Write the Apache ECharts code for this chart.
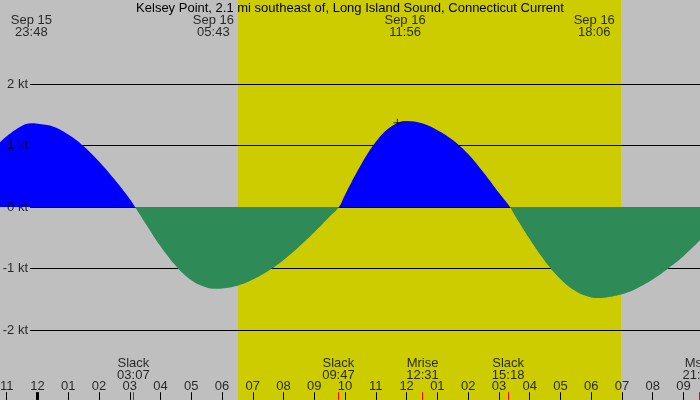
<!DOCTYPE html>
<html lang="en">
<head>
<meta charset="UTF-8">
<title>Kelsey Point Current</title>
<style>
  html, body, #main { width: 100%; height: 100%; margin: 0; padding: 0; }
</style>
<script src="https://cdn.jsdelivr.net/npm/echarts@6/dist/echarts.min.js"></script>
</head>
<body>
<div id="main"></div>
<script>
// time in hours after Sep 16 00:00 (negative = Sep 15), speed in knots
const hours = [-1.22, -1.0, -0.5, -0.2, 0, 0.5, 1.0, 1.5, 2.0, 2.5,
  3.0, 3.17, 3.5, 4.0, 4.5, 5.0, 5.5, 5.77, 6.0, 6.5,
  7.0, 7.5, 8.0, 8.5, 9.0, 9.5, 9.8, 10.0, 10.5, 11.0,
  11.5, 12.0, 12.5, 13.0, 13.5, 14.0, 14.5, 15.0, 15.36, 15.5,
  16.0, 16.5, 17.0, 17.5, 18.0, 18.19, 18.5, 19.0, 19.5, 20.0,
  20.5, 21.0, 21.54];
const speed = [1.05, 1.15, 1.32, 1.36, 1.355, 1.31, 1.18, 0.99, 0.74, 0.45,
  0.13, 0, -0.26, -0.64, -0.96, -1.19, -1.31, -1.33, -1.325, -1.28,
  -1.18, -1.04, -0.86, -0.645, -0.41, -0.155, 0, 0.20, 0.67, 1.06,
  1.31, 1.40, 1.36, 1.25, 1.09, 0.86, 0.56, 0.23, 0, -0.12,
  -0.52, -0.88, -1.17, -1.37, -1.47, -1.48, -1.47, -1.42, -1.32, -1.18,
  -1.00, -0.80, -0.54];

const hourTicks = [-1, 0, 1, 2, 3, 4, 5, 6, 7, 8, 9, 10, 11, 12, 13, 14, 15, 16, 17, 18, 19, 20, 21];
const hourLabels = ['11', '12', '01', '02', '03', '04', '05', '06', '07', '08', '09', '10',
  '11', '12', '01', '02', '03', '04', '05', '06', '07', '08', '09'];

const daylight = [6.52, 18.97];

const topTimes = [-0.2, 5.717, 11.95, 18.1];
const topLabels = ['Sep 15\n23:48', 'Sep 16\n05:43', 'Sep 16\n11:56', 'Sep 16\n18:06'];

const eventTimes = [3.117, 9.783, 12.517, 15.3, 21.5];
const eventLabels = ['Slack\n03:07', 'Slack\n09:47', 'Mrise\n12:31', 'Slack\n15:18', 'Mset\n21:30'];

const ktLevels = [2, 1, 0, -1, -2];
const peakMark = [11.7, 1.37];

const xMin = -1.219, xMax = 21.538;
const yMin = -3.138, yMax = 3.366;
const gridStart = -0.244;
const font = 'Liberation Sans';

var chart = echarts.init(document.getElementById('main'));

function textSeries(points, texts, z) {
  return {
    type: 'scatter',
    symbolSize: 0,
    silent: true,
    z: z || 10,
    data: points.map(function (p, i) { return { value: p, name: texts[i] }; }),
    label: {
      show: true,
      position: 'inside',
      formatter: '{b}',
      color: '#000',
      fontFamily: font,
      fontSize: 13,
      lineHeight: 12,
      align: 'center',
      verticalAlign: 'middle'
    }
  };
}

var tickLines = hourTicks.map(function (h) {
  return [
    { coord: [h, yMin + 0.001], lineStyle: { color: '#000', width: h === 0 ? 3 : 1 } },
    { coord: [h, -3.01] }
  ];
}).concat(eventTimes.map(function (h) {
  return [
    { coord: [h, yMin + 0.001], lineStyle: { color: '#ff0000', width: 1 } },
    { coord: [h, -3.01] }
  ];
}));

var option = {
  backgroundColor: '#bfbfbf',
  animation: false,
  title: {
    text: 'Kelsey Point, 2.1 mi southeast of, Long Island Sound, Connecticut Current',
    left: 'center',
    top: 2,
    padding: 0,
    textStyle: { fontFamily: font, fontSize: 13, fontWeight: 'normal', color: '#000' }
  },
  grid: { left: 0, right: 0, top: 0, bottom: 0 },
  xAxis: { type: 'value', min: xMin, max: xMax, show: false },
  yAxis: { type: 'value', min: yMin, max: yMax, show: false },
  visualMap: {
    show: false,
    type: 'piecewise',
    seriesIndex: 1,
    dimension: 1,
    pieces: [
      { gte: -10, lt: 0, color: '#2e8b57' },
      { gte: 0, lte: 10, color: '#0000ff' }
    ]
  },
  series: [
    {
      name: 'frame',
      type: 'line',
      data: [],
      silent: true,
      markArea: {
        silent: true,
        z: 1,
        itemStyle: { color: '#cccc00', opacity: 1 },
        data: [[{ xAxis: daylight[0] }, { xAxis: daylight[1] }]]
      },
      markLine: {
        silent: true,
        z: 2,
        symbol: 'none',
        label: { show: false },
        lineStyle: { color: '#000', width: 1, type: 'solid' },
        data: ktLevels.map(function (v) {
          return [{ coord: [gridStart, v] }, { coord: [xMax, v] }];
        })
      }
    },
    {
      name: 'current',
      type: 'line',
      z: 3,
      smooth: 0.4,
      showSymbol: false,
      silent: true,
      lineStyle: { width: 0 },
      areaStyle: { opacity: 1 },
      data: hours.map(function (h, i) { return [h, speed[i]]; }),
      markLine: {
        silent: true,
        z: 6,
        symbol: 'none',
        label: { show: false },
        lineStyle: { type: 'solid' },
        data: tickLines
      }
    },
    {
      name: 'peak',
      type: 'scatter',
      z: 8,
      silent: true,
      symbol: 'path://M0,4L8,4M4,0L4,8',
      symbolSize: 8,
      itemStyle: { color: 'none', borderColor: '#000', borderWidth: 1 },
      data: [peakMark]
    },
    textSeries(ktLevels.map(function (v) { return [gridStart, v]; }),
      ktLevels.map(function (v) { return v + ' kt'; })),
    textSeries(hourTicks.map(function (h) { return [h, -2.911]; }), hourLabels),
    textSeries(eventTimes.map(function (h) { return [h, -2.634]; }), eventLabels),
    textSeries(topTimes.map(function (h) { return [h, 2.935]; }), topLabels)
  ]
};

// axis labels sit left of the grid line start
option.series[3].label.position = 'left';
option.series[3].label.align = 'right';
option.series[3].label.distance = 2;

chart.setOption(option);
</script>
</body>
</html>
